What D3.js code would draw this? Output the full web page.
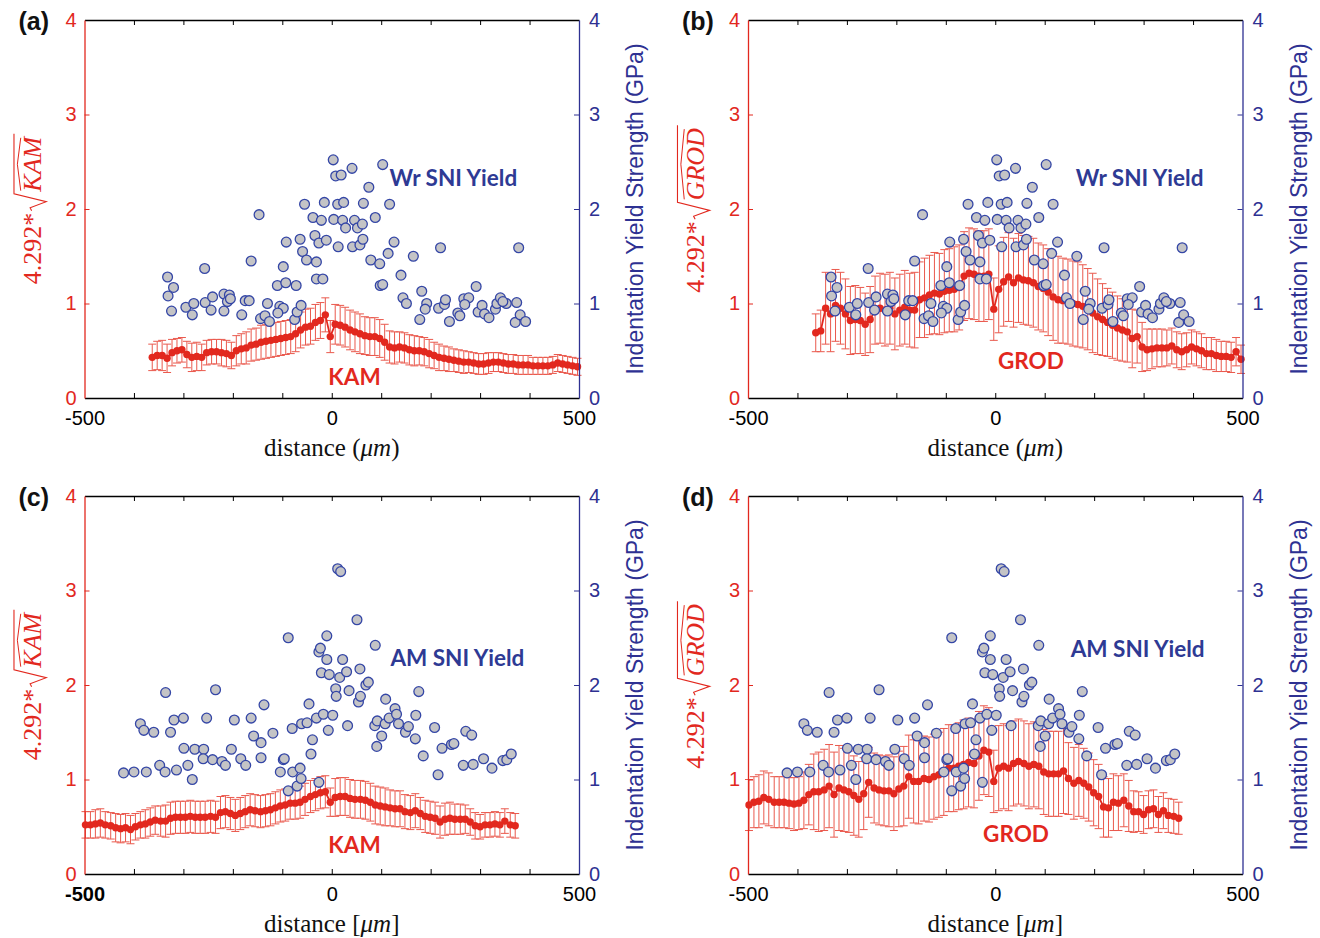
<!DOCTYPE html>
<html>
<head>
<meta charset="utf-8">
<script src="https://cdn.jsdelivr.net/npm/d3@7"></script>
<style>
  body { margin: 0; background: #fff; }
  svg { display: block; }
</style>
</head>
<body>
<svg id="fig" width="1320" height="938"></svg>
<script>
// scan positions (um) of the EBSD profiles
var xTop = [-363,-353,-343,-333,-323,-313,-303,-293,-283,-273,-263,-253,-243,-233,-223,-213,-203,-193,-183,-173,
  -163,-153,-143,-133,-123,-113,-103,-93,-83,-73,-63,-53,-43,-33,-23,-13,-3,7,17,27,
  37,47,57,67,77,87,97,107,117,127,137,147,157,167,177,187,197,207,217,227,
  237,247,257,267,277,287,297,307,317,327,337,347,357,367,377,387,397,407,417,427,
  437,447,457,467,477,487,497];
var xBot = [-498,-488,-478,-468,-458,-447,-437,-427,-417,-407,-397,-387,-377,-367,-357,-346,-336,-326,-316,-306,
  -296,-286,-276,-266,-256,-245,-235,-225,-215,-205,-195,-185,-175,-165,-155,-144,-134,-124,-114,-104,
  -94,-84,-74,-64,-54,-43,-33,-23,-13,-3,7,17,27,37,47,58,68,78,88,98,
  108,118,128,138,148,159,169,179,189,199,209,219,229,239,249,260,270,280,290,300,
  310,320,330,340,350,361,371];

// (a) KAM, wrought
var kamA = [0.43,0.45,0.45,0.42,0.48,0.50,0.51,0.46,0.43,0.44,0.43,0.48,0.49,0.49,0.48,0.47,0.45,0.50,0.52,0.53,
  0.56,0.57,0.59,0.60,0.61,0.62,0.63,0.64,0.65,0.68,0.72,0.75,0.76,0.80,0.82,0.88,0.65,0.78,0.77,0.75,
  0.72,0.70,0.68,0.66,0.65,0.65,0.63,0.59,0.54,0.53,0.54,0.53,0.51,0.50,0.50,0.49,0.47,0.45,0.43,0.42,
  0.41,0.40,0.39,0.38,0.38,0.37,0.36,0.36,0.37,0.38,0.38,0.37,0.36,0.36,0.35,0.35,0.35,0.34,0.34,0.34,
  0.34,0.35,0.37,0.36,0.35,0.34,0.33];
var kamAErr = [0.14,0.15,0.16,0.15,0.14,0.13,0.13,0.14,0.15,0.15,0.14,0.13,0.13,0.13,0.14,0.14,0.14,0.16,0.16,0.17,
  0.17,0.17,0.18,0.18,0.18,0.18,0.18,0.18,0.18,0.19,0.19,0.19,0.19,0.19,0.19,0.18,0.17,0.21,0.21,0.21,
  0.21,0.21,0.21,0.20,0.20,0.20,0.20,0.19,0.17,0.17,0.16,0.16,0.16,0.16,0.15,0.15,0.15,0.14,0.14,0.13,
  0.13,0.12,0.12,0.12,0.11,0.11,0.11,0.11,0.11,0.10,0.10,0.10,0.10,0.10,0.10,0.10,0.10,0.09,0.09,0.09,
  0.09,0.09,0.09,0.09,0.09,0.09,0.09];

// (b) GROD, wrought
var grodB = [0.69,0.71,0.95,0.89,0.98,0.95,0.89,0.82,0.83,0.82,0.78,0.83,0.93,0.95,0.93,0.95,0.89,0.93,0.96,0.93,
  0.93,1.04,1.06,1.09,1.11,1.10,1.13,1.14,1.15,1.17,1.29,1.32,1.31,1.29,1.29,1.31,0.94,1.15,1.23,1.28,
  1.22,1.27,1.25,1.24,1.22,1.18,1.16,1.12,1.07,1.04,1.03,1.02,1.00,0.99,0.97,0.94,0.90,0.86,0.83,0.80,
  0.77,0.74,0.72,0.70,0.63,0.65,0.54,0.51,0.52,0.53,0.53,0.53,0.55,0.51,0.49,0.51,0.54,0.52,0.50,0.47,
  0.47,0.45,0.44,0.44,0.43,0.49,0.41];
var grodBErr = [0.20,0.22,0.38,0.40,0.38,0.38,0.37,0.36,0.36,0.35,0.33,0.35,0.36,0.37,0.38,0.38,0.38,0.38,0.39,0.39,
  0.40,0.40,0.42,0.42,0.43,0.43,0.44,0.44,0.45,0.45,0.47,0.48,0.48,0.48,0.48,0.48,0.33,0.46,0.47,0.47,
  0.47,0.47,0.47,0.47,0.47,0.46,0.46,0.46,0.46,0.46,0.45,0.45,0.45,0.45,0.44,0.43,0.42,0.40,0.38,0.36,
  0.35,0.34,0.33,0.32,0.31,0.28,0.26,0.22,0.21,0.20,0.20,0.19,0.19,0.19,0.19,0.18,0.18,0.18,0.18,0.17,
  0.17,0.17,0.16,0.16,0.16,0.15,0.15];

// (c) KAM, additively manufactured
var kamC = [0.52,0.52,0.53,0.54,0.52,0.51,0.49,0.48,0.49,0.47,0.50,0.52,0.53,0.55,0.57,0.56,0.56,0.59,0.60,0.60,
  0.60,0.61,0.60,0.60,0.60,0.61,0.60,0.65,0.66,0.64,0.62,0.64,0.66,0.68,0.67,0.66,0.67,0.68,0.70,0.72,
  0.73,0.75,0.75,0.76,0.79,0.82,0.84,0.86,0.87,0.76,0.81,0.82,0.82,0.80,0.79,0.79,0.78,0.76,0.73,0.72,
  0.71,0.70,0.69,0.69,0.66,0.65,0.67,0.64,0.61,0.60,0.59,0.55,0.58,0.59,0.58,0.58,0.58,0.55,0.51,0.50,
  0.52,0.52,0.53,0.52,0.56,0.52,0.51];
var kamCErr = [0.14,0.14,0.15,0.15,0.14,0.14,0.15,0.15,0.15,0.15,0.14,0.14,0.15,0.15,0.15,0.16,0.17,0.17,0.17,0.17,
  0.17,0.17,0.17,0.17,0.17,0.17,0.17,0.17,0.17,0.17,0.17,0.17,0.17,0.17,0.17,0.17,0.17,0.17,0.17,0.17,
  0.17,0.17,0.17,0.17,0.17,0.17,0.17,0.17,0.17,0.15,0.20,0.20,0.20,0.20,0.20,0.20,0.20,0.20,0.20,0.20,
  0.20,0.19,0.19,0.19,0.18,0.18,0.18,0.17,0.17,0.17,0.17,0.17,0.17,0.17,0.16,0.16,0.15,0.14,0.14,0.13,
  0.13,0.13,0.13,0.13,0.13,0.13,0.13];

// (d) GROD, additively manufactured
var grodD = [0.73,0.76,0.77,0.81,0.79,0.76,0.76,0.76,0.75,0.74,0.75,0.78,0.84,0.87,0.87,0.89,0.93,0.84,0.91,0.89,
  0.87,0.83,0.79,0.85,0.97,0.91,0.89,0.88,0.88,0.85,0.90,0.93,1.03,0.98,0.98,1.01,1.00,1.03,1.05,1.08,
  1.12,1.12,1.14,1.16,1.18,1.17,1.25,1.31,1.29,0.98,1.12,1.14,1.12,1.17,1.19,1.17,1.14,1.16,1.14,1.08,
  1.06,1.06,1.06,1.09,1.01,0.96,0.99,0.96,0.92,0.86,0.82,0.71,0.70,0.76,0.75,0.78,0.72,0.66,0.66,0.63,
  0.68,0.69,0.63,0.67,0.62,0.61,0.59];
var grodDErr = [0.27,0.27,0.28,0.28,0.28,0.27,0.27,0.27,0.27,0.28,0.28,0.30,0.32,0.40,0.42,0.43,0.44,0.45,0.45,0.44,
  0.43,0.42,0.40,0.38,0.37,0.37,0.37,0.37,0.38,0.39,0.40,0.42,0.44,0.44,0.45,0.45,0.45,0.45,0.45,0.46,
  0.46,0.46,0.46,0.47,0.47,0.47,0.47,0.47,0.47,0.33,0.45,0.45,0.45,0.45,0.45,0.45,0.45,0.45,0.45,0.45,
  0.45,0.45,0.45,0.45,0.38,0.38,0.38,0.37,0.36,0.35,0.34,0.32,0.31,0.30,0.29,0.28,0.27,0.22,0.21,0.20,
  0.20,0.20,0.19,0.19,0.18,0.18,0.17];

// nanoindentation yield strength (GPa), wrought
var wrX = [-332,-320,-331,-324,-295,-279,-282,-257,-256,-241,-244,-218,-207,-211,-205,-218,-182,-175,-167,-147,
  -163,-144,-135,-126,-130,-110,-98,-93,-92,-105,-98,-109,-72,-75,-70,-62,-64,-59,-51,-55,
  -38,-34,-31,-26,-31,-18,-21,-15,-11,3,8,19,4,13,12,24,22,28,41,46,
  52,62,64,42,57,63,75,88,103,117,79,97,114,126,98,103,140,165,144,151,
  182,178,192,189,216,220,228,230,238,255,259,267,277,269,292,296,304,309,318,331,
  334,341,353,346,374,378,371,381,392];
var wrY = [1.28,1.17,1.08,0.92,0.96,1.00,0.88,1.37,1.01,1.07,0.93,1.10,1.09,1.02,1.05,0.92,0.88,1.03,1.03,1.94,
  1.45,0.84,0.87,0.81,1.00,1.19,1.39,1.22,1.65,0.97,0.95,0.90,1.19,0.83,0.91,0.98,1.68,1.55,1.46,2.05,
  1.91,1.72,1.44,1.64,1.26,1.26,1.88,2.07,1.67,2.52,2.35,2.36,1.89,1.60,2.05,2.07,1.88,1.80,2.43,1.88,
  1.80,1.84,2.06,1.60,1.62,1.68,2.23,1.91,2.47,2.05,1.46,1.42,1.53,1.65,1.19,1.20,1.30,1.50,1.06,1.00,
  1.13,0.83,1.00,0.94,0.95,1.59,0.99,1.04,0.81,0.90,0.87,1.05,1.06,0.99,1.18,0.91,0.98,0.89,0.85,0.94,
  1.00,1.06,1.00,1.02,1.01,1.59,0.80,0.88,0.81];

// nanoindentation yield strength (GPa), additively manufactured
var amX = [-421,-400,-375,-387,-380,-360,-336,-348,-337,-326,-319,-314,-300,-299,-291,-282,-277,-259,-260,-253,
  -241,-235,-222,-215,-203,-197,-184,-174,-163,-158,-143,-143,-137,-119,-104,-98,-96,-88,-88,-79,
  -80,-70,-64,-62,-61,-50,-46,-42,-39,-31,-26,-26,-23,-21,-17,-10,-10,-7,-5,2,
  8,9,12,18,16,22,30,35,32,51,57,54,58,69,74,88,87,92,91,101,
  109,108,116,128,131,135,149,155,169,170,176,185,208,215,223,242,247,266,271,283,
  286,307,324,346,354,363];
var amY = [1.07,1.08,1.08,1.59,1.52,1.50,1.92,1.15,1.08,1.50,1.63,1.10,1.65,1.33,1.15,1.00,1.32,1.32,1.22,1.65,
  1.21,1.95,1.19,1.15,1.32,1.63,1.22,1.15,1.65,1.46,1.39,1.23,1.79,1.49,1.08,1.21,1.22,2.50,0.88,1.08,
  1.54,0.93,1.12,1.01,1.59,1.60,1.80,1.27,1.42,1.65,0.97,2.35,2.39,2.13,1.69,2.52,2.27,1.52,2.11,1.68,
  1.96,1.88,3.23,3.20,2.08,2.27,2.14,1.94,1.57,2.69,2.17,1.82,1.88,2.00,2.03,2.42,1.57,1.62,1.35,1.46,
  1.85,1.59,1.65,1.75,1.69,1.59,1.50,1.56,1.43,1.68,1.93,1.25,1.55,1.05,1.33,1.37,1.38,1.15,1.51,1.47,
  1.16,1.22,1.12,1.20,1.21,1.27];

var xTicks = [-500,-400,-300,-200,-100,0,100,200,300,400,500];
var xLabelled = [-500,0,500];
var yTicks = [0,1,2,3,4];

var RED = '#e2281e', BLUE = '#2e3192', ERR = '#e8483b';
var svg = d3.select('#fig');

var panels = [
  {tag:'(a)', left:84.5, right:579, top:20, bottom:398, xs:xTop, ys:kamA, err:kamAErr, bx:wrX, by:wrY,
   word:'KAM', redName:'KAM', redAt:[46,0.23], blueName:'Wr SNI Yield', blueAt:[246,2.33], br:['(',')']},
  {tag:'(b)', left:748, right:1242.5, top:20, bottom:398, xs:xTop, ys:grodB, err:grodBErr, bx:wrX, by:wrY,
   word:'GROD', redName:'GROD', redAt:[72,0.40], blueName:'Wr SNI Yield', blueAt:[292,2.33], br:['(',')']},
  {tag:'(c)', left:84.5, right:579, top:496, bottom:874, xs:xBot, ys:kamC, err:kamCErr, bx:amX, by:amY,
   word:'KAM', redName:'KAM', redAt:[46,0.31], blueName:'AM SNI Yield', blueAt:[254,2.29], br:['[',']'], boldMin:true},
  {tag:'(d)', left:748, right:1242.5, top:496, bottom:874, xs:xBot, ys:grodD, err:grodDErr, bx:amX, by:amY,
   word:'GROD', redName:'GROD', redAt:[42,0.43], blueName:'AM SNI Yield', blueAt:[288,2.39], br:['[',']']}
];

panels.forEach(drawPanel);

function drawPanel(p) {
  var g = svg.append('g');
  var x = d3.scaleLinear().domain([-500, 500]).range([p.left, p.right]);
  var yL = d3.scaleLinear().domain([0, 4]).range([p.bottom, p.top]);
  var yR = d3.scaleLinear().domain([0, 4]).range([p.bottom, p.top]);
  var pts = p.xs.map(function(d, i) { return {x: d, y: p.ys[i], e: p.err[i]}; });

  // error bars
  var eb = g.append('g').attr('stroke', ERR).attr('stroke-width', 1).attr('opacity', 0.9);
  eb.selectAll('line.v').data(pts).enter().append('line')
    .attr('x1', function(d) { return x(d.x); }).attr('x2', function(d) { return x(d.x); })
    .attr('y1', function(d) { return yL(d.y - d.e); }).attr('y2', function(d) { return yL(d.y + d.e); });
  eb.selectAll('line.t').data(pts).enter().append('line')
    .attr('x1', function(d) { return x(d.x) - 4; }).attr('x2', function(d) { return x(d.x) + 4; })
    .attr('y1', function(d) { return yL(d.y + d.e); }).attr('y2', function(d) { return yL(d.y + d.e); });
  eb.selectAll('line.b').data(pts).enter().append('line')
    .attr('x1', function(d) { return x(d.x) - 4; }).attr('x2', function(d) { return x(d.x) + 4; })
    .attr('y1', function(d) { return yL(d.y - d.e); }).attr('y2', function(d) { return yL(d.y - d.e); });

  g.append('path').datum(pts)
    .attr('fill', 'none').attr('stroke', RED).attr('stroke-width', 1.8)
    .attr('d', d3.line().x(function(d) { return x(d.x); }).y(function(d) { return yL(d.y); }));
  g.selectAll('circle.r').data(pts).enter().append('circle')
    .attr('cx', function(d) { return x(d.x); }).attr('cy', function(d) { return yL(d.y); })
    .attr('r', 3.7).attr('fill', RED);

  // indentation points
  g.selectAll('circle.b').data(p.bx).enter().append('circle')
    .attr('cx', function(d) { return x(d); })
    .attr('cy', function(d, i) { return yR(p.by[i]); })
    .attr('r', 4.9).attr('fill', '#c4c4c6').attr('stroke', '#3446a6').attr('stroke-width', 1.3);

  // axes
  var fnt = '"Liberation Sans", Arial, sans-serif';
  var bx = g.append('g').attr('transform', 'translate(0,' + p.bottom + ')')
    .call(d3.axisBottom(x).tickValues(xTicks).tickSize(-5).tickSizeOuter(0).tickPadding(13)
      .tickFormat(function(d) { return xLabelled.indexOf(d) >= 0 ? d : ''; }));
  var tx = g.append('g').attr('transform', 'translate(0,' + p.top + ')')
    .call(d3.axisTop(x).tickValues(xTicks).tickSize(-5).tickSizeOuter(0).tickFormat(''));
  [bx, tx].forEach(function(a) {
    a.select('.domain').attr('stroke', '#000').attr('stroke-width', 1.3);
    a.selectAll('.tick line').attr('stroke', '#000')
      .filter(function(d) { return d === -500 || d === 500; }).remove();
  });
  bx.selectAll('text').attr('fill', '#000').attr('font-family', fnt).attr('font-size', 20)
    .attr('font-weight', function(d) { return (p.boldMin && d === -500) ? 'bold' : 'normal'; });

  var ly = g.append('g').attr('transform', 'translate(' + p.left + ',0)')
    .call(d3.axisLeft(yL).tickValues(yTicks).tickSize(-5).tickSizeOuter(0).tickPadding(8).tickFormat(d3.format('d')));
  var ry = g.append('g').attr('transform', 'translate(' + p.right + ',0)')
    .call(d3.axisRight(yR).tickValues(yTicks).tickSize(-5).tickSizeOuter(0).tickPadding(10).tickFormat(d3.format('d')));
  [[ly, RED], [ry, BLUE]].forEach(function(a) {
    a[0].select('.domain').attr('stroke', a[1]).attr('stroke-width', 1.3);
    a[0].selectAll('.tick line').attr('stroke', a[1])
      .filter(function(d) { return d === 0 || d === 4; }).remove();
    a[0].selectAll('text').attr('fill', a[1]).attr('font-family', fnt).attr('font-size', 20);
  });

  // axis titles
  var cy = (p.top + p.bottom) / 2;
  sqrtLabel(g, p.left - 44, cy, p.word);
  g.append('text')
    .attr('transform', 'translate(' + (p.right + 64) + ',' + cy + ') rotate(-90)')
    .attr('text-anchor', 'middle').attr('fill', BLUE)
    .attr('font-family', fnt).attr('font-size', 23)
    .text('Indentation Yield Strength (GPa)');

  var xl = g.append('text').attr('x', (p.left + p.right) / 2).attr('y', p.bottom + 58)
    .attr('text-anchor', 'middle').attr('fill', '#111')
    .attr('font-family', '"Liberation Serif", "Times New Roman", serif').attr('font-size', 25);
  xl.append('tspan').text('distance ' + p.br[0]);
  xl.append('tspan').attr('font-style', 'italic').text('\u03bcm');
  xl.append('tspan').text(p.br[1]);

  // panel tag
  g.append('text').attr('x', p.left - 66).attr('y', p.top + 10)
    .attr('font-family', fnt).attr('font-weight', 'bold').attr('font-size', 25).attr('fill', '#111')
    .text(p.tag);

  // series annotations
  var ann = '"Lato", "Open Sans", sans-serif';
  g.append('text').attr('x', x(p.blueAt[0])).attr('y', yR(p.blueAt[1]))
    .attr('text-anchor', 'middle').attr('dominant-baseline', 'central')
    .attr('font-family', ann).attr('font-weight', 'bold').attr('font-size', 22.5).attr('fill', '#2e3a94')
    .text(p.blueName);
  g.append('text').attr('x', x(p.redAt[0])).attr('y', yL(p.redAt[1]))
    .attr('text-anchor', 'middle').attr('dominant-baseline', 'central')
    .attr('font-family', ann).attr('font-weight', 'bold').attr('font-size', 22.5).attr('fill', RED)
    .text(p.redName);
}

// 4.292*sqrt(hat{WORD}) drawn rotated, baseline at bx
function sqrtLabel(g, bx, cy, word) {
  var fs = 26;
  var serif = '"Liberation Serif", "Times New Roman", serif';
  var grp = g.append('g').attr('transform', 'translate(' + bx + ',' + cy + ') rotate(-90)');
  var t1 = grp.append('text').attr('font-family', serif).attr('font-size', fs).attr('fill', RED).text('4.292*');
  var w1 = t1.node().getComputedTextLength();
  var t2 = grp.append('text').attr('font-family', serif).attr('font-size', fs).attr('font-style', 'italic')
    .attr('fill', RED).text(word);
  var w2 = t2.node().getComputedTextLength();
  var rw = 19;
  var total = w1 + 2 + rw + w2 + 3;
  var x0 = -total / 2;
  t1.attr('x', x0);
  var rx = x0 + w1 + 2;
  t2.attr('x', rx + rw);
  grp.append('path')
    .attr('d', 'M' + rx + ',' + (-0.34 * fs) + 'L' + (rx + 3) + ',' + (-0.4 * fs) +
      'L' + (rx + 9) + ',' + (0.22 * fs) + 'L' + (rx + 17) + ',' + (-1.02 * fs) +
      'L' + (rx + rw + w2 + 3) + ',' + (-1.02 * fs))
    .attr('fill', 'none').attr('stroke', RED).attr('stroke-width', 1.1);
  var h0 = rx + rw + 1, h1 = rx + rw + w2 - 1;
  grp.append('path')
    .attr('d', 'M' + h0 + ',' + (-0.76 * fs) + 'L' + ((h0 + h1) / 2) + ',' + (-0.89 * fs) + 'L' + h1 + ',' + (-0.76 * fs))
    .attr('fill', 'none').attr('stroke', RED).attr('stroke-width', 1);
}
</script>
</body>
</html>
